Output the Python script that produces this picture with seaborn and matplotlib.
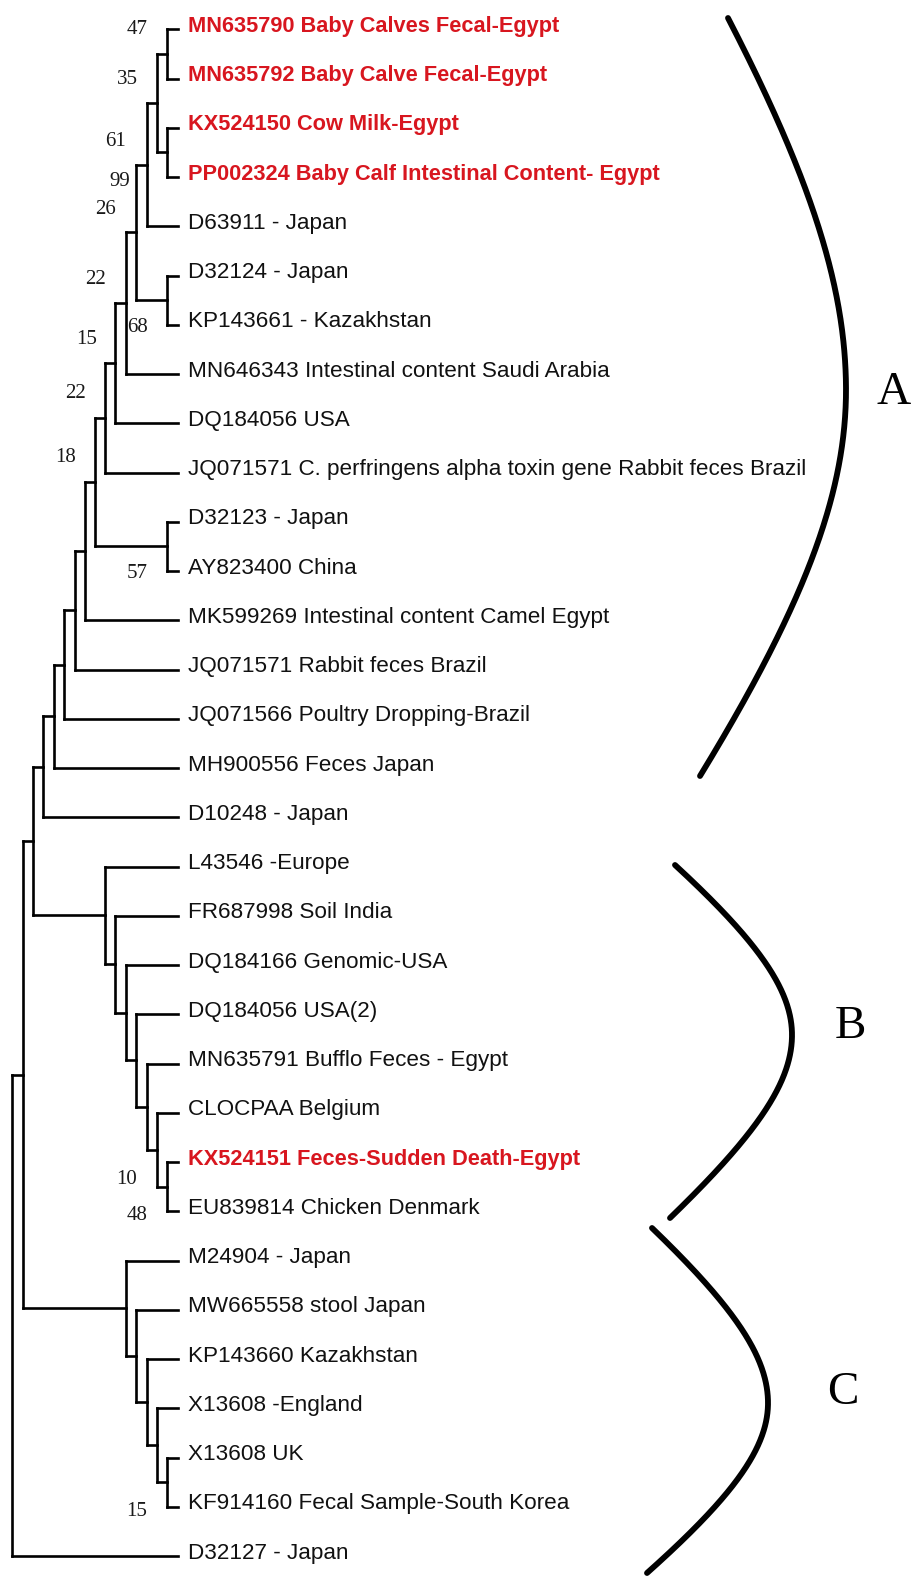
import numpy as np
import pandas as pd
import matplotlib
matplotlib.use("Agg")
import matplotlib.pyplot as plt
import seaborn as sns

# ---------------- data ----------------
leaf_labels = [
    "MN635790 Baby Calves Fecal-Egypt",
    "MN635792 Baby Calve Fecal-Egypt",
    "KX524150 Cow Milk-Egypt",
    "PP002324 Baby Calf Intestinal Content- Egypt",
    "D63911 - Japan",
    "D32124 - Japan",
    "KP143661 - Kazakhstan",
    "MN646343 Intestinal content Saudi Arabia",
    "DQ184056 USA",
    "JQ071571 C. perfringens alpha toxin gene Rabbit feces Brazil",
    "D32123 - Japan",
    "AY823400 China",
    "MK599269 Intestinal content Camel Egypt",
    "JQ071571 Rabbit feces Brazil",
    "JQ071566 Poultry Dropping-Brazil",
    "MH900556 Feces Japan",
    "D10248 - Japan",
    "L43546 -Europe",
    "FR687998 Soil India",
    "DQ184166 Genomic-USA",
    "DQ184056 USA(2)",
    "MN635791 Bufflo Feces - Egypt",
    "CLOCPAA Belgium",
    "KX524151 Feces-Sudden Death-Egypt",
    "EU839814 Chicken Denmark",
    "M24904 - Japan",
    "MW665558 stool Japan",
    "KP143660 Kazakhstan",
    "X13608 -England",
    "X13608 UK",
    "KF914160 Fecal Sample-South Korea",
    "D32127 - Japan",
]
highlight = [0, 1, 2, 3, 23]          # isolates of this study (red)
tip_depth = 178                        # depth of all leaf tips

# internal nodes: (name, children, depth)
internal_nodes = [
    ("a1", (0, 1), 167), ("a2", (2, 3), 167), ("a3", ("a1", "a2"), 157),
    ("a4", ("a3", 4), 147), ("a5", (5, 6), 167), ("a6", ("a4", "a5"), 136),
    ("a7", ("a6", 7), 126), ("a8", ("a7", 8), 115), ("a9", ("a8", 9), 105),
    ("a10", (10, 11), 167), ("a11", ("a9", "a10"), 95), ("a12", ("a11", 12), 85),
    ("a13", ("a12", 13), 75), ("a14", ("a13", 14), 64), ("a15", ("a14", 15), 54),
    ("A", ("a15", 16), 43),
    ("b1", (23, 24), 167), ("b2", (22, "b1"), 157), ("b3", (21, "b2"), 147),
    ("b4", (20, "b3"), 136), ("b5", (19, "b4"), 126), ("b6", (18, "b5"), 115),
    ("B", (17, "b6"), 105),
    ("AB", ("A", "B"), 33),
    ("c1", (29, 30), 167), ("c2", (28, "c1"), 157), ("c3", (27, "c2"), 147),
    ("c4", (26, "c3"), 136), ("C", (25, "c4"), 126),
    ("ABC", ("AB", "C"), 23),
    ("root", ("ABC", 31), 12),
]

bootstrap_values = [47, 35, 61, 99, 26, 22, 68, 15, 22, 18, 57, 10, 48, 15]
clade_names = ["A", "B", "C"]

# ---------------- layout (pixels) ----------------
W, H = 914, 1577
Y0, STEP = 29.3, 49.25
boot_pos_px = [(137, 30), (127, 80), (116, 142), (120, 181), (106, 210), (96, 279),
               (137, 328), (87, 339), (75, 394), (66, 458), (137, 574),
               (127, 1179), (137, 1216), (137, 1511)]
# bracket: (top point), (apex), (bottom point), b
brackets = [((728, 18), (846, 390), (700, 776), 300),
            ((675, 865), (792, 1035), (670, 1218), 120),
            ((652, 1228), (768, 1403), (647, 1573), 120)]
clade_label_pos = [(894, 393), (850, 1027), (843, 1393)]

# ---------------- build tree geometry ----------------
depth = {i: tip_depth for i in range(len(leaf_labels))}
ypos = {i: float(i) for i in range(len(leaf_labels))}
for name, ch, d in internal_nodes:
    depth[name] = d
    ypos[name] = (ypos[ch[0]] + ypos[ch[-1]]) / 2

rows = []
seg = 0
for name, ch, d in internal_nodes:
    rows += [(seg, d, ypos[ch[0]]), (seg, d, ypos[ch[-1]])]
    seg += 1
    for c in ch:
        rows += [(seg, d, ypos[c]), (seg, depth[c], ypos[c])]
        seg += 1
seg_df = pd.DataFrame(rows, columns=["seg", "x", "y"])

# ---------------- plot ----------------
sns.set_theme(style="white")
plt.rcParams["font.family"] = ["Liberation Sans", "DejaVu Sans"]

fig = plt.figure(figsize=(W / 100, H / 100), dpi=100)
ax = fig.add_axes([0, 0, 1, 1])
sns.lineplot(data=seg_df, x="x", y="y", units="seg", estimator=None, sort=False,
             color="black", linewidth=1.9, solid_capstyle="projecting",
             legend=False, ax=ax)
ax.set_xlim(0, W)
ax.set_ylim((H - Y0) / STEP, -Y0 / STEP)
ax.axis("off")

red = "#D8161F"
for i, lab in enumerate(leaf_labels):
    hl = i in highlight
    ax.annotate(lab, xy=(tip_depth, i), xytext=(10, -2.5), textcoords="offset pixels",
                ha="left", va="baseline",
                fontsize=15.7 if hl else 16.2,
                fontweight="bold" if hl else "normal",
                color=red if hl else "#111111")

def py2y(py):
    return (py - Y0) / STEP

for v, (px, py) in zip(bootstrap_values, boot_pos_px):
    ax.text(px, py2y(py), str(v), ha="center", va="center", fontsize=15,
            family=["Liberation Serif", "DejaVu Serif"], color="#1a1a1a")

# overlay axes for clade brackets in pixel coordinates
ax2 = fig.add_axes([0, 0, 1, 1])
ax2.set_xlim(0, W)
ax2.set_ylim(H, 0)
ax2.axis("off")
ax2.patch.set_alpha(0)

for (top, apex, bot, b), name, lp in zip(brackets, clade_names, clade_label_pos):
    xa, ya = apex
    def f(dy):
        return np.sqrt(1 + (dy / b) ** 2) - 1
    kt = (xa - top[0]) / f(top[1] - ya)
    kb = (xa - bot[0]) / f(bot[1] - ya)
    yy1 = np.linspace(top[1], ya, 200)
    yy2 = np.linspace(ya, bot[1], 200)
    xx1 = xa - kt * f(yy1 - ya)
    xx2 = xa - kb * f(yy2 - ya)
    ax2.plot(np.r_[xx1, xx2], np.r_[yy1, yy2], color="black", lw=4.2,
             solid_capstyle="round")
    ax2.text(lp[0], lp[1], name, ha="center", va="center", fontsize=34,
             family=["Liberation Serif", "DejaVu Serif"], color="black")

fig.savefig("out.png", dpi=100)
